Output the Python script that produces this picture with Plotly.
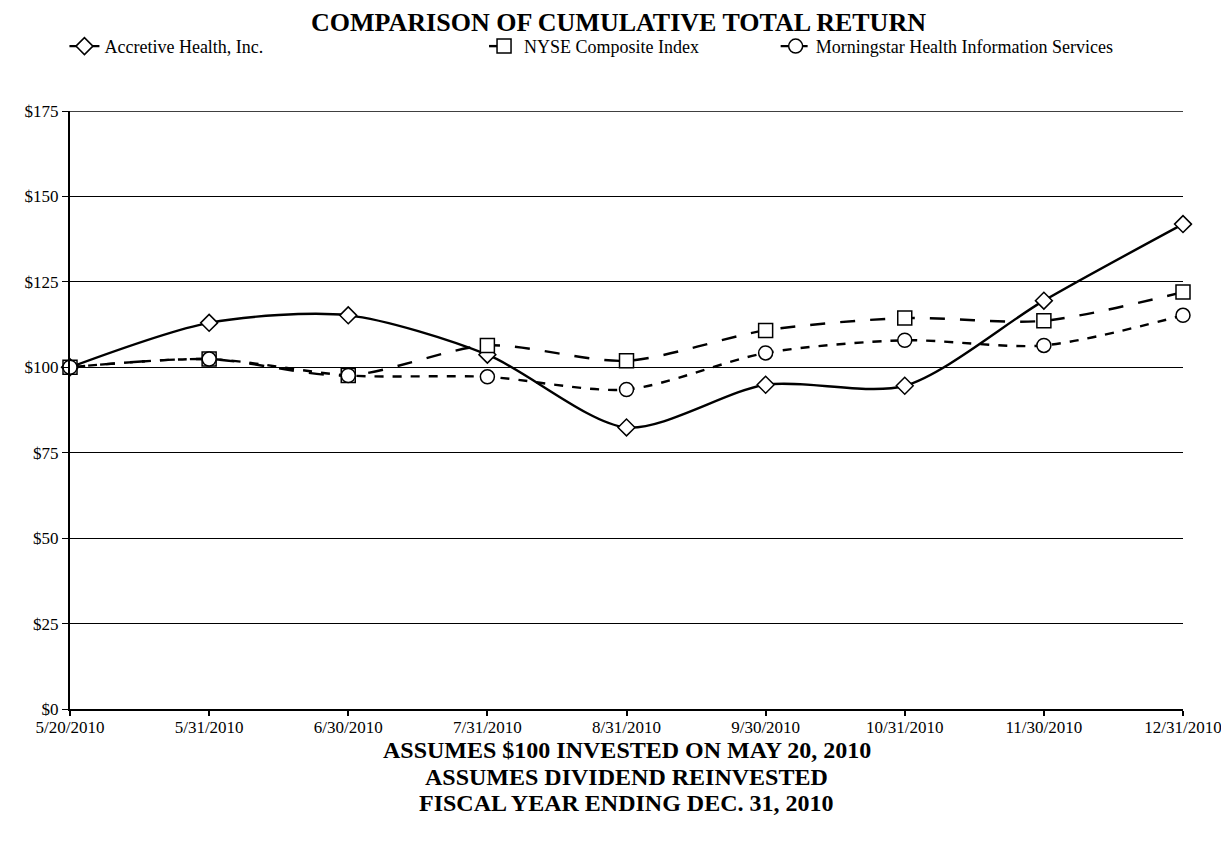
import plotly.graph_objects as go

dates = ["5/20/2010", "5/31/2010", "6/30/2010", "7/31/2010", "8/31/2010",
         "9/30/2010", "10/31/2010", "11/30/2010", "12/31/2010"]
accretive = [100.0, 113.0, 115.2, 103.7, 82.4, 94.9, 94.6, 119.5, 141.9]
nyse = [100.0, 102.4, 97.6, 106.4, 101.9, 110.8, 114.4, 113.6, 122.0]
morningstar = [100.0, 102.4, 97.6, 97.2, 93.5, 104.2, 107.9, 106.4, 115.2]
y_ticks = [0, 25, 50, 75, 100, 125, 150, 175]
y_tick_labels = ["$0", "$25", "$50", "$75", "$100", "$125", "$150", "$175"]

FONT = "Liberation Serif"

fig = go.Figure()
series = [
    ("Accretive Health, Inc.", accretive, "solid", "diamond", 13, "legend"),
    ("NYSE Composite Index", nyse, "longdash", "square", 14, "legend2"),
    ("Morningstar Health Information Services", morningstar, "dash", "circle", 14, "legend3"),
]
for name, vals, dash, sym, size, leg in series:
    fig.add_trace(go.Scatter(
        x=dates, y=vals, name=name, mode="lines+markers", legend=leg,
        line=dict(color="black", width=2.4, dash=dash, shape="spline", smoothing=0.8),
        marker=dict(symbol=sym, size=size, color="white",
                    line=dict(color="black", width=1.5)),
        cliponaxis=False,
    ))

leg_common = dict(orientation="h", yanchor="middle", y=1.108, xanchor="left",
                  font=dict(size=18, family=FONT, color="black"), itemwidth=30,
                  bgcolor="rgba(0,0,0,0)")
fig.update_layout(
    width=1221, height=838,
    paper_bgcolor="white", plot_bgcolor="white",
    margin=dict(l=62, r=46, t=103, b=137, autoexpand=False),
    font=dict(family=FONT, color="black", size=18),
    title=dict(text="<b>COMPARISON OF CUMULATIVE TOTAL RETURN</b>",
               x=0.5, xanchor="center", y=0.983, yanchor="middle",
               font=dict(size=26, family=FONT, color="black")),
    legend=dict(x=-0.005, **leg_common),
    legend2=dict(x=0.372, **leg_common),
    legend3=dict(x=0.634, **leg_common),
    showlegend=True,
)
fig.update_xaxes(
    type="category", range=[0, 8], showgrid=False, automargin=False,
    showline=True, linecolor="black", linewidth=1.5,
    ticks="outside", ticklen=5, tickcolor="black", tickwidth=1.5,
    ticklabelstandoff=-3,
    tickfont=dict(size=17, family=FONT), zeroline=False,
)
fig.update_yaxes(
    range=[0, 175], tickvals=y_ticks, ticktext=y_tick_labels, automargin=False,
    showgrid=True, gridcolor="black", gridwidth=1.2,
    showline=True, linecolor="black", linewidth=2,
    ticks="outside", ticklen=6, tickcolor="black",
    tickfont=dict(size=17, family=FONT), zeroline=False,
)

# top gridline at the highest tick (sits on the plot edge)
fig.add_shape(type="line", xref="paper", yref="y", x0=0, x1=1,
              y0=y_ticks[-1], y1=y_ticks[-1], line=dict(color="black", width=1.5),
              layer="below")

notes = ["ASSUMES $100 INVESTED ON MAY 20, 2010",
         "ASSUMES DIVIDEND REINVESTED",
         "FISCAL YEAR ENDING DEC. 31, 2010"]
note_y = [-0.068, -0.113, -0.158]
for t, yy in zip(notes, note_y):
    fig.add_annotation(text="<b>" + t + "</b>", xref="paper", yref="paper",
                       x=0.5, xanchor="center", y=yy, yanchor="middle",
                       showarrow=False, font=dict(size=24, family=FONT, color="black"))

fig.write_html("out.html")
